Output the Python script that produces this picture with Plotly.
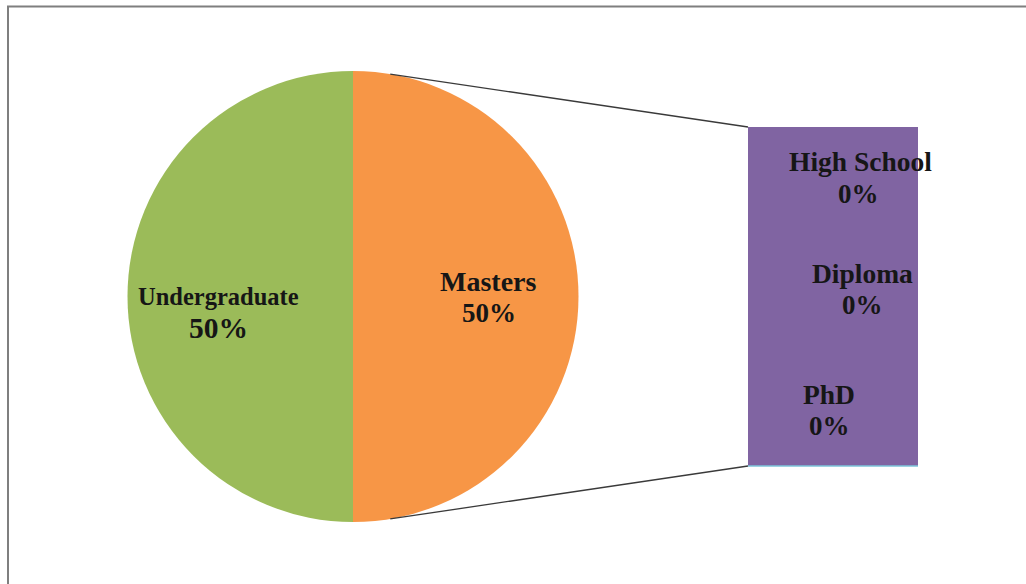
import math
import plotly.graph_objects as go

# Main pie: education level shares
pie_labels = ["Masters", "Undergraduate"]
pie_values = [50, 50]
pie_colors = ["#F79646", "#9BBB59"]

# Breakdown bar: remaining education levels
bar_labels = ["High School", "Diploma", "PhD"]
bar_values = [0, 0, 0]
bar_color = "#8064A2"

W, H = 1026, 584
CX, CY, R = 353, 296.5, 225.5          # pie centre and radius in px
BAR_X0, BAR_X1, BAR_Y0, BAR_Y1 = 748, 918, 127, 466

def px(x):
    return x / W

def py(y):
    return 1 - y / H

def pct(v, vals):
    tot = sum(vals)
    return f"{round(100 * v / tot) if tot else 0}%"

FONT = "Liberation Serif, Times New Roman, serif"
TXT = "#161616"

fig = go.Figure()
fig.add_trace(go.Pie(
    labels=pie_labels,
    values=pie_values,
    sort=False,
    direction="clockwise",
    rotation=0,
    marker=dict(colors=pie_colors, line=dict(width=0)),
    textinfo="none",
    hoverinfo="label+percent",
    showlegend=False,
    domain=dict(x=[px(CX - R), px(CX + R)], y=[py(CY + R), py(CY - R)]),
))

shapes = []
# chart-area frame
shapes.append(dict(type="rect", xref="paper", yref="paper",
                   x0=px(8), x1=px(W + 20), y0=py(H + 20), y1=py(6.5),
                   line=dict(color="#7f7f7f", width=2), fillcolor="rgba(0,0,0,0)",
                   layer="below"))
# breakdown bar panel
shapes.append(dict(type="rect", xref="paper", yref="paper",
                   x0=px(BAR_X0), x1=px(BAR_X1), y0=py(BAR_Y1), y1=py(BAR_Y0),
                   line=dict(width=0), fillcolor=bar_color))
shapes.append(dict(type="line", xref="paper", yref="paper",
                   x0=px(BAR_X0), x1=px(BAR_X1), y0=py(BAR_Y1), y1=py(BAR_Y1),
                   line=dict(color="#7cc4da", width=1.5)))
# connector lines from the pie edge to the bar corners
ang = math.radians(9.5)
tx, ty = CX + R * math.sin(ang), CY - R * math.cos(ang)
bx, by = CX + R * math.sin(ang), CY + R * math.cos(ang)
for (x0, y0, x1, y1) in [(tx, ty, BAR_X0, BAR_Y0), (bx, by, BAR_X0, BAR_Y1)]:
    shapes.append(dict(type="line", xref="paper", yref="paper",
                       x0=px(x0), y0=py(y0), x1=px(x1), y1=py(y1),
                       line=dict(color="#3a3a3a", width=1.3)))

annotations = []

def label(text, x, y, size):
    annotations.append(dict(text=f"<b>{text}</b>", xref="paper", yref="paper",
                            x=px(x), y=py(y), xanchor="center", yanchor="middle",
                            showarrow=False, font=dict(family=FONT, size=size, color=TXT)))

# pie labels
pie_pos = {"Masters": ((488.5, 281, 28), (488.5, 313, 27)),
           "Undergraduate": ((218.3, 296.5, 24.5), (218.3, 328, 29.5))}
for name, v in zip(pie_labels, pie_values):
    (lx, ly, ls), (vx, vy, vs) = pie_pos[name]
    label(name, lx, ly, ls)
    label(pct(v, pie_values), vx, vy, vs)

# bar labels
bar_pos = {"High School": ((860.5, 161.3), (858.3, 194)),
           "Diploma": ((862.2, 273.3), (862.5, 305)),
           "PhD": ((828.8, 394.7), (829.2, 426))}
for name, v in zip(bar_labels, bar_values):
    (lx, ly), (vx, vy) = bar_pos[name]
    label(name, lx, ly, 27.5)
    label(pct(v, pie_values), vx, vy, 27)

fig.update_layout(
    width=W, height=H,
    margin=dict(l=0, r=0, t=0, b=0),
    paper_bgcolor="white",
    plot_bgcolor="white",
    shapes=shapes,
    annotations=annotations,
)

fig.write_html("out.html")
